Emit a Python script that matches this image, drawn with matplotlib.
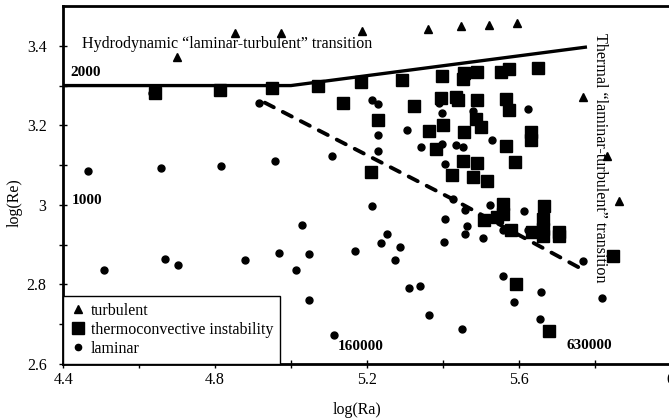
import matplotlib
matplotlib.use("Agg")
import matplotlib.pyplot as plt
from matplotlib.lines import Line2D

plt.rcParams["font.family"] = ["Liberation Serif", "DejaVu Serif"]

# turbulent points: log(Ra), log(Re)
turb_ra = [4.699, 4.852, 4.975, 5.186, 5.362, 5.447, 5.522, 5.596, 5.770, 5.834, 5.864]
turb_re = [3.372, 3.431, 3.432, 3.437, 3.443, 3.450, 3.452, 3.457, 3.272, 3.124, 3.011]

# thermoconvective instability points
inst_ra = [4.642, 4.813, 4.949, 5.070, 5.184, 5.292, 5.397, 5.455, 5.452, 5.489,
           5.553, 5.574, 5.650, 5.136, 5.324, 5.395, 5.435, 5.441, 5.491, 5.566,
           5.574, 5.228, 5.401, 5.487, 5.500, 5.364, 5.456, 5.632, 5.632, 5.382,
           5.566, 5.452, 5.490, 5.591, 5.211, 5.423, 5.479, 5.516, 5.558, 5.667,
           5.560, 5.544, 5.509, 5.665, 5.579, 5.634, 5.665, 5.665, 5.706, 5.706,
           5.849, 5.593, 5.680]
inst_re = [3.282, 3.289, 3.295, 3.299, 3.309, 3.315, 3.324, 3.331, 3.317, 3.333,
           3.333, 3.341, 3.345, 3.257, 3.249, 3.268, 3.272, 3.263, 3.264, 3.267,
           3.238, 3.213, 3.200, 3.216, 3.197, 3.185, 3.184, 3.184, 3.164, 3.141,
           3.147, 3.111, 3.105, 3.109, 3.082, 3.076, 3.071, 3.059, 3.003, 2.997,
           2.978, 2.970, 2.961, 2.965, 2.936, 2.932, 2.940, 2.923, 2.933, 2.922,
           2.871, 2.800, 2.683]

# laminar points
lam_ra = [4.466, 4.657, 4.816, 4.958, 5.108, 4.917, 4.633, 4.508, 4.667, 4.701,
          4.879, 4.969, 5.013, 5.030, 5.048, 5.048, 5.114, 5.169, 5.214, 5.254,
          5.238, 5.286, 5.275, 5.312, 5.339, 5.365, 5.405, 5.402, 5.428, 5.450,
          5.524, 5.458, 5.465, 5.458, 5.505, 5.614, 5.559, 5.625, 5.770, 5.558,
          5.588, 5.659, 5.656, 5.820, 5.214, 5.228, 5.228, 5.228, 5.305, 5.343,
          5.397, 5.397, 5.406, 5.434, 5.452, 5.479, 5.625, 5.529, 5.391]
lam_re = [3.086, 3.094, 3.099, 3.110, 3.124, 3.257, 3.282, 2.837, 2.863, 2.848,
          2.861, 2.879, 2.837, 2.950, 2.877, 2.762, 2.673, 2.884, 2.998, 2.928,
          2.904, 2.893, 2.861, 2.790, 2.796, 2.724, 2.965, 2.907, 3.016, 2.689,
          3.000, 2.988, 2.947, 2.928, 2.918, 2.984, 2.938, 2.938, 2.858, 2.821,
          2.756, 2.780, 2.714, 2.765, 3.264, 3.253, 3.175, 3.135, 3.188, 3.146,
          3.230, 3.154, 3.103, 3.151, 3.146, 3.237, 3.242, 3.162, 3.255]

# transition lines
hydro_ra = [4.40, 5.00, 5.78]
hydro_re = [3.30, 3.30, 3.397]
thermal_ra = [4.931, 5.427, 5.762]
thermal_re = [3.257, 3.014, 2.841]

fig = plt.figure(figsize=(6.69, 4.20), dpi=100)
ax = fig.add_axes([0.0946, 0.1333, 0.9076, 0.8524])

ax.plot(hydro_ra, hydro_re, color="black", lw=2.4, solid_capstyle="butt")
ax.plot(thermal_ra, thermal_re, color="black", lw=2.8, linestyle=(0, (2.6, 2.6)),
        dash_capstyle="round")

ax.plot(turb_ra, turb_re, "^", color="black", markersize=5.5, linestyle="none")
ax.plot(inst_ra, inst_re, "s", color="black", markersize=8, linestyle="none")
ax.plot(lam_ra, lam_re, "o", color="black", markersize=5, linestyle="none")

ax.set_xlim(4.4, 6.0)
ax.set_ylim(2.6, 3.5)
ax.set_xticks([4.4, 4.6, 4.8, 5.0, 5.2, 5.4, 5.6, 5.8, 6.0])
ax.set_xticklabels(["4.4", "", "4.8", "", "5.2", "", "5.6", "", "6"])
ax.set_yticks([2.6, 2.7, 2.8, 2.9, 3.0, 3.1, 3.2, 3.3, 3.4])
ax.set_yticklabels(["2.6", "", "2.8", "", "3", "", "3.2", "", "3.4"])
ax.tick_params(direction="inout", length=6, width=1, labelsize=11.5)
ax.tick_params(axis="x", pad=3)
ax.tick_params(axis="y", pad=9)

for side in ["left", "bottom", "top"]:
    ax.spines[side].set_linewidth(2)
ax.spines["right"].set_visible(False)

ax.set_xlabel("log(Ra)", fontsize=11.5)
ax.set_ylabel("log(Re)", fontsize=11.5)
ax.xaxis.set_label_coords(0.484, -0.105)
ax.yaxis.set_label_coords(-0.067, 0.45)

ax.text(4.449, 3.405, "Hydrodynamic \u201claminar-turbulent\u201d transition",
        fontsize=11.5, ha="left", va="center")
ax.text(5.814, 3.119, "Thermal \u201claminar-turbulent\u201d transition",
        fontsize=11.6, ha="center", va="center", rotation=270)
ax.text(4.418, 3.333, "2000", fontsize=11, fontweight="bold", va="center")
ax.text(4.423, 3.010, "1000", fontsize=11, fontweight="bold", va="center")
ax.text(5.124, 2.643, "160000", fontsize=11, fontweight="bold", va="center")
ax.text(5.725, 2.646, "630000", fontsize=11, fontweight="bold", va="center")

handles = [
    Line2D([], [], marker="^", color="black", linestyle="none", markersize=5.5),
    Line2D([], [], marker="s", color="black", linestyle="none", markersize=8),
    Line2D([], [], marker="o", color="black", linestyle="none", markersize=4.5),
]
leg = ax.legend(handles, ["turbulent", "thermoconvective instability", "laminar"],
                loc="lower left", bbox_to_anchor=(0, 0), borderaxespad=0,
                fancybox=False, edgecolor="black", framealpha=1, fontsize=11.5,
                handlelength=1.0, handletextpad=0.26, borderpad=0.45,
                labelspacing=0.18)
leg.get_frame().set_linewidth(1)

fig.savefig("out.png", dpi=100)
